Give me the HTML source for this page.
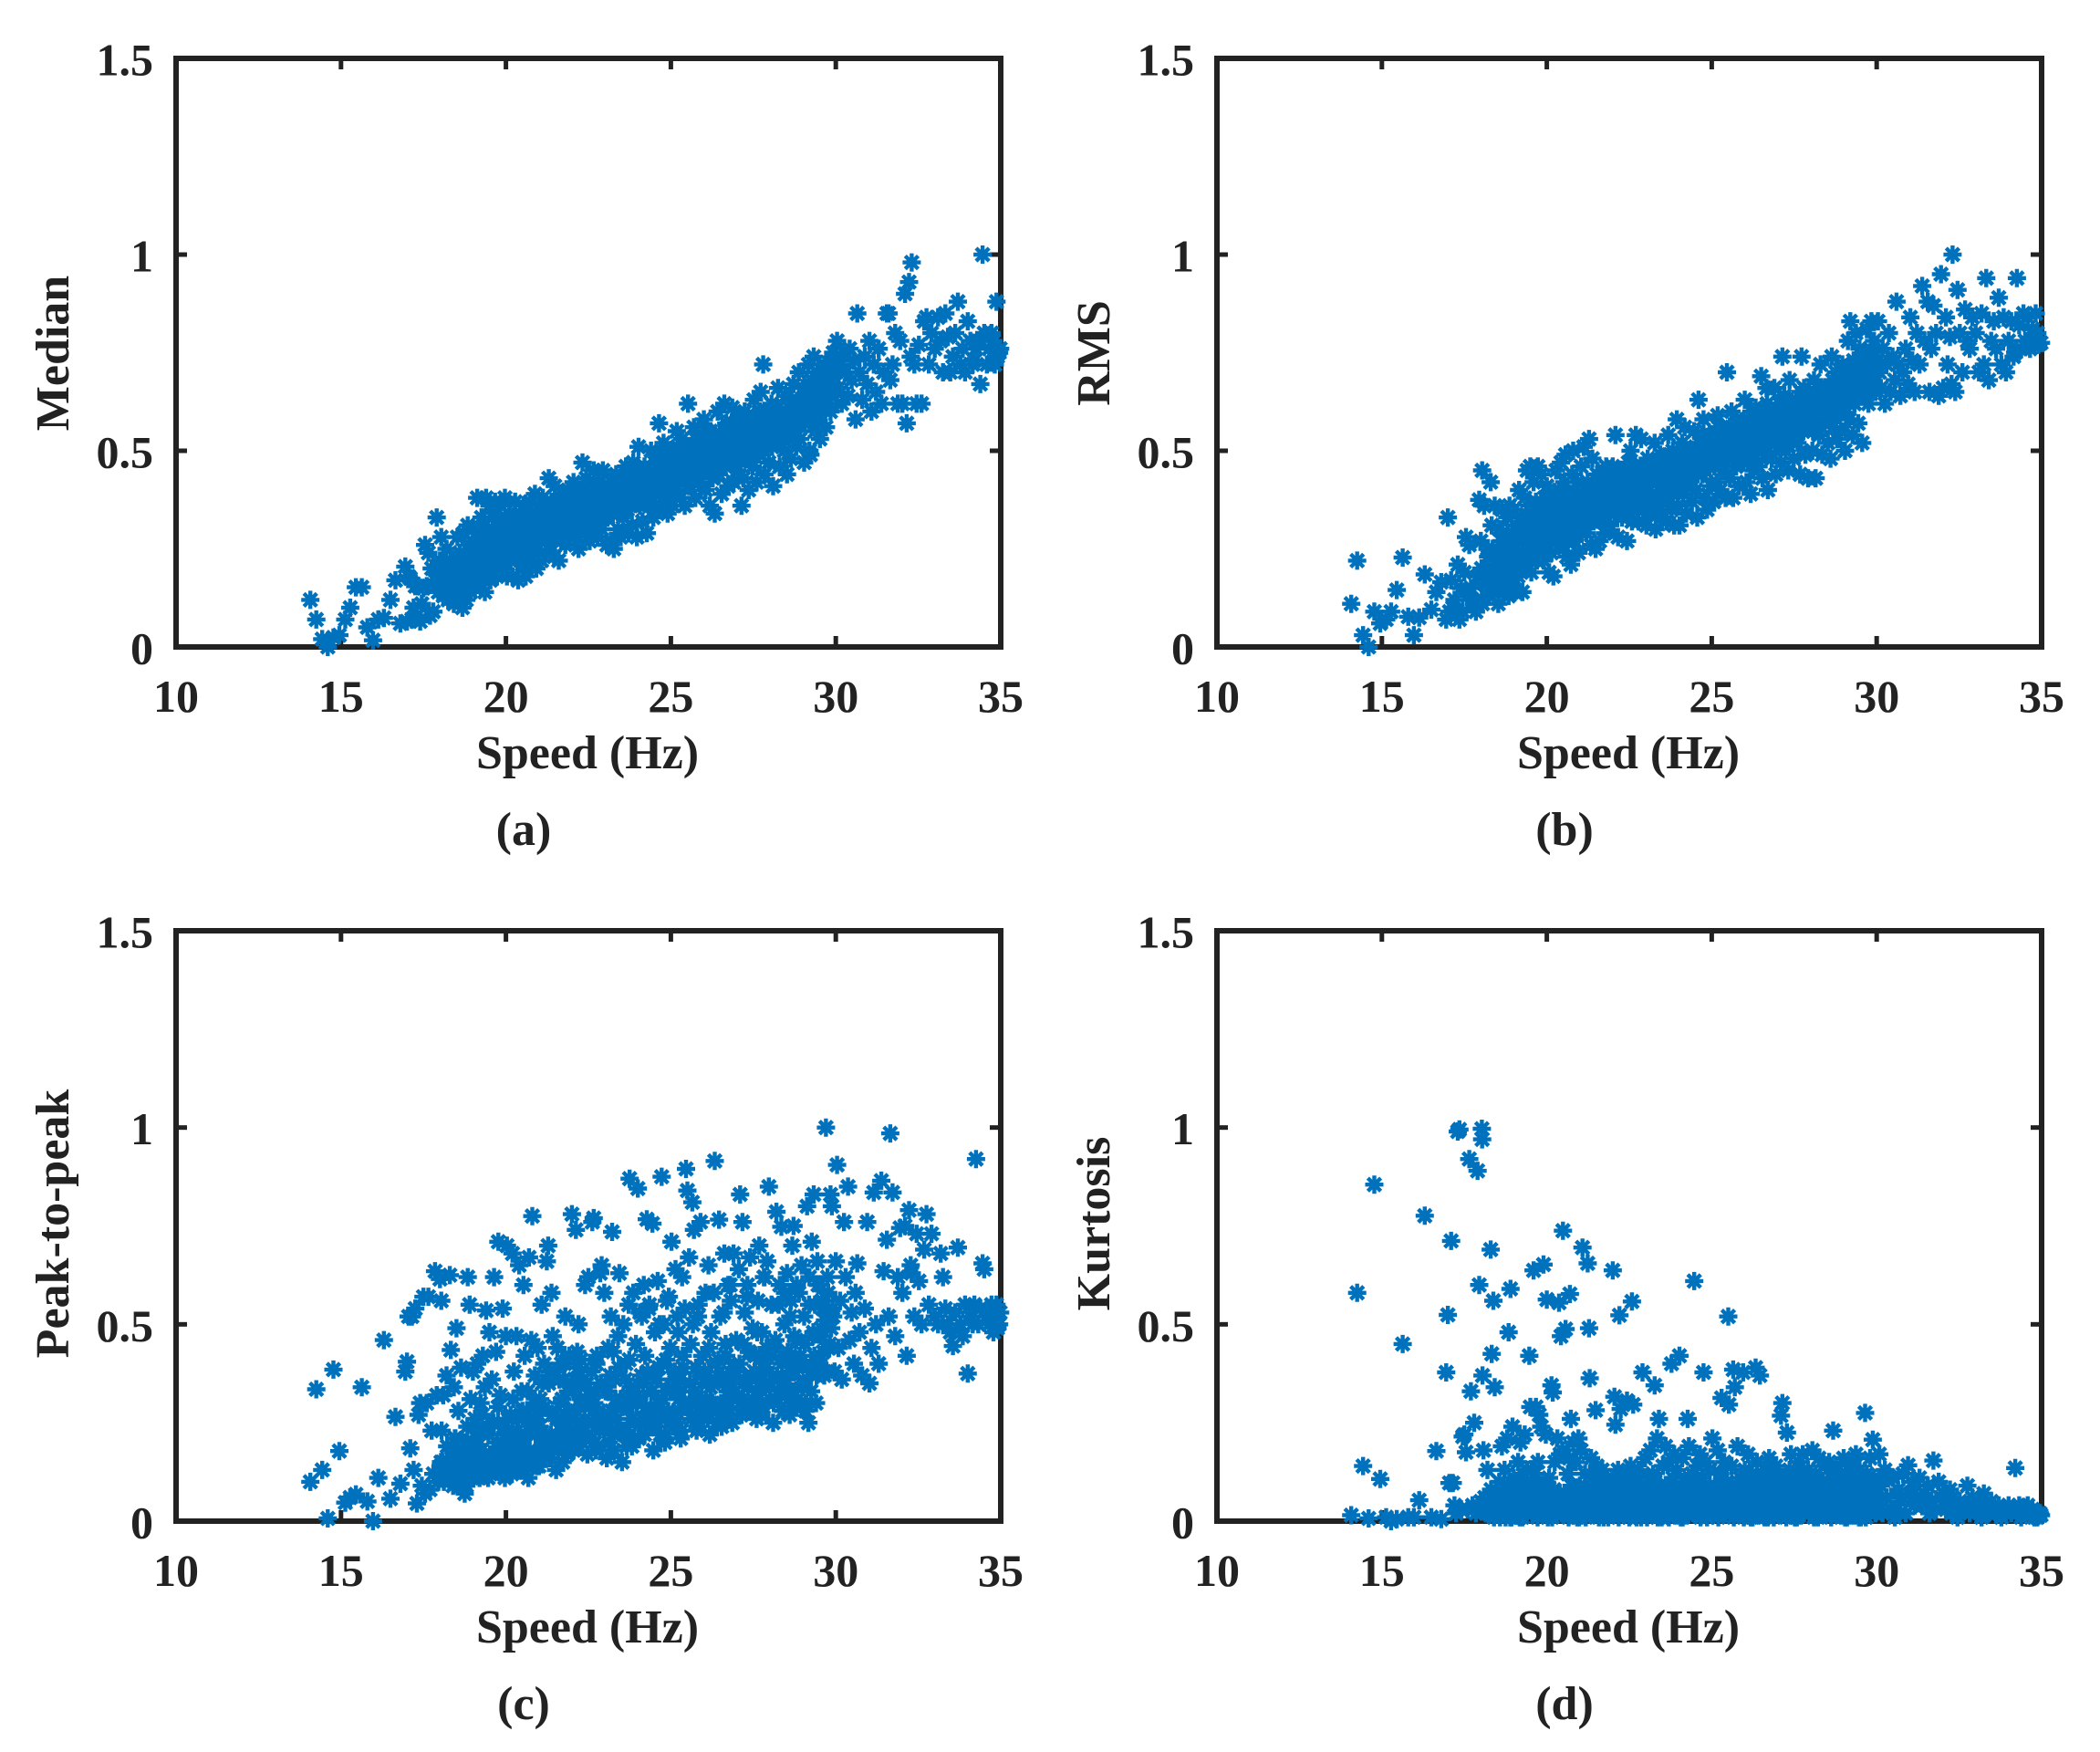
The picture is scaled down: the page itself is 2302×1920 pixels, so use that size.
<!DOCTYPE html>
<html lang="en">
<head>
<meta charset="utf-8">
<title>Speed scatter plots</title>
<style>
html,body{margin:0;padding:0;background:#fff;}
svg{display:block;}
text{font-family:"Liberation Serif",serif;font-weight:bold;fill:#222;}
.tick{font-size:50px;}
.title{font-size:52px;}
.cap{font-size:52px;}
.frame{fill:none;stroke:#222;stroke-width:6;}
</style>
</head>
<body>
<svg id="fig" width="2302" height="1920" viewBox="0 0 2302 1920" xmlns="http://www.w3.org/2000/svg">
<g id="panel-a">
<rect class="frame" x="193" y="64" width="904" height="645"/>
<text class="title" x="644" y="842" text-anchor="middle">Speed (Hz)</text>
<text class="title" transform="translate(75 387) rotate(-90)" text-anchor="middle">Median</text>
<text class="cap" x="574" y="926" text-anchor="middle">(a)</text>
</g>
<g id="panel-b">
<rect class="frame" x="1334" y="64" width="904" height="645"/>
<text class="title" x="1785" y="842" text-anchor="middle">Speed (Hz)</text>
<text class="title" transform="translate(1216 387) rotate(-90)" text-anchor="middle">RMS</text>
<text class="cap" x="1715" y="926" text-anchor="middle">(b)</text>
</g>
<g id="panel-c">
<rect class="frame" x="193" y="1020" width="904" height="647"/>
<text class="title" x="644" y="1800" text-anchor="middle">Speed (Hz)</text>
<text class="title" transform="translate(75 1341) rotate(-90)" text-anchor="middle">Peak-to-peak</text>
<text class="cap" x="574" y="1884" text-anchor="middle">(c)</text>
</g>
<g id="panel-d">
<rect class="frame" x="1334" y="1020" width="904" height="647"/>
<text class="title" x="1785" y="1800" text-anchor="middle">Speed (Hz)</text>
<text class="title" transform="translate(1216 1341) rotate(-90)" text-anchor="middle">Kurtosis</text>
<text class="cap" x="1715" y="1884" text-anchor="middle">(d)</text>
</g>
</svg>
<script>
const xTickLabels = [10, 15, 20, 25, 30, 35];
const yTickLabels = [0, 0.5, 1, 1.5];

const speed = [
14.07,14.25,14.43,14.6,14.77,14.95,15.13,15.28,15.45,15.63,
15.8,15.97,16.13,16.3,16.5,16.65,16.8,16.95,17.0,17.05,
17.1,17.15,17.2,17.25,17.3,17.35,17.4,17.45,17.5,17.55,
17.6,17.65,17.7,17.75,17.8,17.85,17.9,17.95,18.0,18.03,
18.04,18.05,18.08,18.1,18.15,18.2,18.25,18.3,18.33,18.38,
18.42,18.45,18.5,18.53,18.56,18.6,18.64,18.68,18.72,18.75,
18.78,18.8,18.84,18.87,18.9,18.93,18.96,19.0,19.03,19.06,
19.1,19.13,19.16,19.2,19.23,19.26,19.3,19.33,19.36,19.4,
19.44,19.47,19.5,19.53,19.57,19.6,19.64,19.67,19.7,19.73,
19.77,19.8,19.83,19.87,19.9,19.93,19.97,20.0,20.03,20.07,
20.1,20.14,20.18,20.2,20.24,20.28,20.32,20.37,20.4,20.43,
20.47,20.49,20.53,20.57,20.6,20.64,20.68,20.7,20.73,20.77,
20.8,20.84,20.88,20.92,20.96,21.0,21.04,21.08,21.12,21.16,
21.2,21.24,21.28,21.3,21.34,21.38,21.42,21.46,21.48,21.52,
21.56,21.6,21.64,21.68,21.72,21.76,21.8,21.84,21.88,21.92,
21.96,22.0,22.05,22.08,22.12,22.16,22.2,22.24,22.28,22.32,
22.36,22.4,22.43,22.47,22.5,22.54,22.58,22.62,22.66,22.7,
22.74,22.78,22.82,22.86,22.9,22.94,22.98,23.02,23.06,23.1,
23.14,23.18,23.22,23.27,23.3,23.34,23.4,23.44,23.48,23.52,
23.56,23.6,23.64,23.68,23.72,23.75,23.78,23.82,23.86,23.9,
23.94,23.97,24.0,24.02,24.06,24.1,24.14,24.18,24.22,24.27,
24.31,24.35,24.4,24.44,24.47,24.52,24.56,24.6,24.64,24.68,
24.72,24.75,24.78,24.82,24.86,24.9,24.94,24.98,25.02,25.06,
25.1,25.14,25.18,25.22,25.26,25.3,25.34,25.38,25.42,25.46,
25.5,25.52,25.55,25.6,25.65,25.7,25.74,25.78,25.82,25.86,
25.9,25.95,26.0,26.05,26.1,26.14,26.18,26.22,26.27,26.33,
26.37,26.42,26.46,26.5,26.54,26.58,26.62,26.66,26.7,26.74,
26.78,26.82,26.86,26.9,26.94,26.98,27.02,27.06,27.1,27.14,
27.17,27.2,27.24,27.28,27.32,27.36,27.4,27.44,27.48,27.52,
27.56,27.6,27.64,27.68,27.72,27.76,27.8,27.84,27.88,27.92,
27.97,28.0,28.05,28.1,28.15,28.2,28.25,28.3,28.35,28.4,
28.44,28.48,28.52,28.56,28.6,28.64,28.68,28.72,28.76,28.8,
28.84,28.88,28.92,28.96,29.0,29.04,29.08,29.13,29.17,29.2,
29.23,29.27,29.3,29.33,29.37,29.4,29.44,29.48,29.52,29.56,
29.6,29.65,29.7,29.75,29.8,29.84,29.88,29.92,29.96,30.0,
30.04,30.08,30.13,30.18,30.25,30.3,30.37,30.42,30.48,30.55,
30.6,30.65,30.72,30.8,30.88,30.95,31.02,31.08,31.15,31.22,
31.3,31.38,31.45,31.55,31.6,31.65,31.72,31.8,31.88,31.95,
32.02,32.1,32.15,32.22,32.27,32.3,32.38,32.45,32.52,32.6,
32.68,32.75,32.82,32.9,33.0,33.1,33.18,33.25,33.32,33.4,
33.47,33.55,33.62,33.7,33.78,33.85,33.92,34.0,34.08,34.15,
34.2,34.25,34.32,34.38,34.45,34.5,34.58,34.65,34.72,34.78,
34.82,34.87,34.9,34.95,34.98,
18.02,18.12,18.22,18.31,18.36,18.4,18.44,18.47,18.49,18.51,
18.55,18.58,18.62,18.66,18.7,18.74,18.77,18.83,18.89,18.95,
19.02,19.08,19.12,19.18,19.22,19.28,19.32,19.38,19.42,19.46,
19.52,19.56,19.62,19.66,19.72,19.76,19.82,19.86,19.92,19.96,
20.02,20.06,20.12,20.16,20.22,20.26,20.34,20.39,20.45,20.5,
20.55,20.62,20.66,20.72,20.75,20.82,20.86,20.9,20.94,20.98,
21.02,21.06,21.1,21.14,21.18,21.22,21.32,21.36,21.4,21.44,
21.54,21.58,21.62,21.66,21.7,21.74,21.78,21.82,21.86,21.9,
22.02,22.07,22.1,22.14,22.18,22.22,22.26,22.3,22.34,22.38,
22.52,22.56,22.6,22.64,22.68,22.72,22.76,22.8,22.84,22.88,
23.04,23.08,23.12,23.16,23.2,23.24,23.28,23.32,23.36,23.42,
23.54,23.58,23.62,23.66,23.7,23.74,23.8,23.84,23.88,23.92,
24.04,24.08,24.12,24.16,24.2,24.24,24.29,24.33,24.38,24.42,
24.54,24.58,24.62,24.66,24.7,24.74,24.8,24.84,24.88,24.92,
25.04,25.08,25.12,25.16,25.2,25.24,25.28,25.32,25.36,25.4,
25.58,25.62,25.67,25.72,25.76,25.8,25.84,25.88,25.92,25.97,
26.02,26.07,26.12,26.16,26.2,26.24,26.3,26.35,26.4,26.44,
26.52,26.56,26.6,26.64,26.68,26.72,26.76,26.8,26.84,26.88,
27.04,27.08,27.12,27.19,27.22,27.26,27.3,27.34,27.38,27.42,
27.54,27.58,27.62,27.66,27.7,27.74,27.78,27.82,27.86,27.9,
28.02,28.07,28.12,28.17,28.22,28.27,28.32,28.37,28.42,28.46,
28.5,28.54,28.58,28.62,28.66,28.7,28.74,28.78,28.82,28.86,
29.02,29.06,29.1,29.15,29.19,29.25,29.32,29.35,29.42,29.46,
29.5,29.54,29.58,29.62,29.67,29.72,29.77,29.82,29.86,29.9
];

const medianValues = [
.12,.07,.02,0,.024,.03,.07,.10,.152,.152,
.05,.017,.07,.074,.12,.17,.06,.205,.065,.18,
.175,.07,.10,.155,.08,.155,.065,.11,.15,.26,
.155,.24,.08,.20,.09,.17,.33,.14,.22,.16,
.28,.15,.21,.13,.18,.25,.12,.17,.22,.14,
.11,.20,.16,.28,.13,.24,.18,.10,.29,.15,
.21,.12,.31,.17,.26,.14,.19,.30,.23,.15,
.24,.38,.19,.27,.16,.33,.22,.31,.14,.38,
.20,.29,.36,.17,.26,.33,.21,.37,.24,.18,
.30,.23,.36,.27,.20,.32,.38,.25,.18,.29,
.34,.22,.28,.18,.31,.37,.25,.17,.29,.34,
.27,.21,.36,.30,.18,.33,.24,.28,.37,.22,
.32,.25,.39,.20,.29,.35,.27,.22,.38,.31,
.24,.34,.29,.43,.26,.37,.31,.23,.41,.28,
.33,.22,.36,.27,.30,.39,.26,.34,.40,.29,
.35,.31,.42,.28,.37,.33,.25,.39,.30,.47,
.36,.29,.43,.33,.38,.27,.41,.34,.45,.31,
.35,.28,.42,.37,.30,.45,.33,.39,.26,.36,
.41,.27,.34,.25,.38,.44,.30,.36,.28,.40,
.33,.39,.46,.35,.29,.42,.37,.31,.47,.38,
.43,.28,.40,.51,.36,.45,.32,.41,.38,.29,
.44,.36,.50,.40,.33,.47,.42,.35,.57,.39,
.45,.37,.52,.41,.48,.34,.43,.39,.50,.36,
.46,.40,.55,.43,.49,.38,.53,.45,.36,.51,
.47,.62,.41,.50,.44,.56,.38,.48,.53,.42,
.51,.45,.58,.40,.55,.48,.36,.52,.43,.34,
.49,.60,.44,.54,.39,.50,.62,.46,.56,.41,
.53,.47,.61,.42,.57,.51,.45,.59,.55,.36,
.52,.43,.60,.48,.55,.40,.58,.50,.46,.63,
.54,.42,.59,.49,.65,.56,.72,.44,.51,.60,
.47,.55,.62,.41,.58,.52,.66,.46,.60,.53,
.50,.64,.44,.57,.61,.48,.55,.67,.59,.51,
.62,.70,.53,.58,.66,.47,.63,.60,.72,.50,
.49,.68,.60,.74,.55,.64,.70,.59,.53,.67,
.62,.72,.56,.69,.65,.60,.73,.75,.66,.70,
.78,.66,.72,.62,.75,.70,.64,.76,.68,.73,
.58,.85,.70,.63,.74,.67,.78,.60,.72,.65,
.76,.62,.70,.85,.85,.68,.72,.80,.62,.78,
.62,.90,.57,.93,.74,.98,.72,.62,.77,.62,
.83,.84,.72,.80,.76,.84,.78,.70,.85,.79,
.70,.74,.80,.88,.72,.76,.70,.83,.78,.72,
.73,.76,.78,.67,1.0,.80,.72,.76,.80,.78,
.72,.88,.74,.75,.76,
.17,.14,.19,.16,.21,.15,.18,.20,.13,.17,
.20,.17,.22,.15,.19,.23,.16,.21,.18,.24,
.22,.26,.19,.24,.28,.21,.25,.18,.27,.23,
.25,.29,.22,.27,.31,.24,.28,.21,.30,.26,
.27,.31,.24,.29,.33,.26,.30,.23,.28,.32,
.29,.26,.32,.28,.34,.25,.30,.27,.33,.29,
.31,.27,.34,.29,.36,.32,.28,.35,.30,.33,
.34,.30,.37,.32,.39,.35,.31,.36,.33,.38,
.35,.32,.38,.34,.40,.36,.31,.37,.33,.39,
.37,.33,.39,.35,.41,.36,.32,.38,.34,.40,
.36,.33,.40,.37,.42,.34,.39,.35,.41,.38,
.39,.35,.42,.37,.44,.40,.36,.43,.38,.41,
.41,.37,.44,.39,.46,.42,.38,.45,.40,.43,
.44,.40,.47,.42,.49,.45,.41,.48,.43,.46,
.46,.42,.49,.44,.51,.47,.43,.50,.45,.48,
.48,.44,.51,.46,.53,.49,.45,.52,.47,.50,
.49,.46,.53,.48,.55,.50,.45,.54,.47,.52,
.51,.47,.54,.49,.57,.52,.48,.55,.50,.53,
.52,.48,.56,.50,.58,.54,.49,.57,.51,.55,
.54,.50,.57,.52,.60,.55,.51,.58,.53,.56,
.55,.51,.58,.53,.61,.56,.52,.59,.54,.57,
.58,.54,.61,.56,.63,.59,.55,.62,.57,.60,
.61,.57,.64,.59,.66,.62,.58,.65,.60,.63,
.65,.61,.68,.63,.70,.66,.62,.69,.64,.67
];

const rmsValues = [
.11,.22,.03,0,.09,.06,.07,.09,.145,.228,
.077,.03,.075,.185,.095,.14,.165,.07,.33,.09,
.17,.10,.12,.08,.21,.07,.15,.09,.19,.28,
.13,.26,.15,.12,.11,.09,.18,.375,.27,.12,
.45,.11,.19,.36,.16,.25,.13,.42,.31,.20,
.36,.15,.24,.11,.30,.19,.35,.14,.27,.17,
.20,.33,.13,.36,.25,.16,.29,.35,.14,.22,
.28,.18,.40,.23,.33,.14,.30,.38,.21,.45,
.25,.36,.46,.19,.31,.42,.28,.37,.22,.46,
.33,.26,.44,.30,.22,.38,.28,.41,.34,.19,
.30,.24,.38,.18,.35,.45,.27,.40,.31,.47,
.36,.26,.42,.49,.23,.33,.39,.29,.21,.44,
.50,.27,.35,.42,.24,.38,.46,.30,.51,.34,
.29,.42,.53,.36,.26,.48,.32,.39,.25,.44,
.37,.27,.43,.32,.38,.29,.46,.35,.41,.31,
.38,.46,.34,.54,.41,.28,.37,.44,.33,.39,
.42,.35,.27,.47,.38,.50,.32,.43,.36,.54,
.44,.32,.38,.53,.46,.35,.41,.31,.48,.37,
.34,.45,.38,.52,.30,.42,.36,.49,.33,.43,
.40,.46,.32,.54,.38,.44,.35,.50,.31,.42,
.58,.36,.47,.31,.43,.52,.39,.56,.34,.48,
.42,.50,.37,.46,.55,.40,.33,.63,.47,.52,
.44,.58,.38,.50,.35,.46,.54,.41,.49,.37,
.53,.42,.59,.47,.40,.56,.45,.51,.38,.70,
.48,.55,.43,.60,.38,.52,.46,.57,.41,.50,
.54,.47,.63,.42,.58,.50,.39,.55,.45,.61,
.52,.46,.60,.69,.43,.55,.49,.66,.40,.57,
.61,.48,.54,.66,.44,.58,.51,.62,.47,.74,
.55,.64,.50,.59,.45,.68,.53,.61,.48,.57,
.63,.52,.58,.44,.74,.55,.66,.49,.61,.43,
.57,.64,.50,.68,.43,.60,.54,.72,.49,.62,
.58,.66,.52,.62,.48,.74,.56,.64,.70,.53,
.60,.67,.55,.72,.63,.50,.69,.78,.58,.83,
.66,.54,.73,.62,.80,.69,.57,.76,.64,.52,
.72,.67,.81,.62,.75,.83,.69,.78,.65,.73,
.83,.70,.66,.76,.62,.72,.80,.65,.74,.68,
.88,.72,.64,.70,.76,.67,.84,.73,.65,.80,
.72,.92,.78,.88,.65,.76,.87,.80,.64,.95,
.66,.84,.72,.79,.67,1.0,.65,.91,.80,.70,
.86,.78,.76,.84,.80,.70,.85,.72,.94,.68,
.78,.83,.76,.89,.72,.84,.70,.78,.83,.74,
.75,.94,.82,.76,.85,.78,.84,.76,.81,.77,
.85,.80,.77,.775,.775,
.20,.16,.23,.18,.25,.14,.21,.24,.17,.19,
.24,.19,.27,.16,.22,.28,.18,.25,.21,.29,
.26,.31,.22,.28,.33,.24,.30,.21,.32,.27,
.30,.34,.25,.31,.36,.28,.33,.24,.35,.29,
.32,.36,.27,.34,.38,.30,.35,.26,.33,.37,
.34,.29,.37,.32,.39,.28,.35,.31,.38,.33,
.36,.31,.39,.33,.41,.37,.32,.40,.35,.38,
.38,.34,.42,.36,.44,.39,.35,.41,.37,.43,
.39,.35,.43,.37,.45,.40,.34,.42,.36,.44,
.41,.36,.44,.38,.46,.40,.35,.43,.37,.45,
.41,.37,.45,.42,.47,.38,.44,.39,.46,.43,
.44,.39,.47,.41,.49,.45,.40,.48,.42,.46,
.46,.41,.49,.43,.51,.47,.42,.50,.44,.48,
.49,.44,.52,.46,.54,.50,.45,.53,.47,.51,
.51,.46,.54,.48,.56,.52,.47,.55,.49,.53,
.53,.48,.56,.50,.58,.54,.49,.57,.51,.55,
.54,.50,.58,.52,.60,.55,.49,.59,.51,.57,
.56,.51,.59,.53,.62,.57,.52,.60,.54,.58,
.57,.52,.61,.54,.63,.59,.53,.62,.55,.60,
.59,.54,.62,.56,.65,.60,.55,.63,.57,.61,
.60,.55,.63,.57,.66,.61,.56,.64,.58,.62,
.63,.58,.66,.60,.68,.64,.59,.67,.61,.65,
.66,.61,.69,.63,.71,.67,.62,.70,.64,.68,
.70,.65,.73,.67,.75,.71,.66,.74,.68,.72
];

const peakToPeakValues = [
.10,.335,.13,.007,.385,.178,.047,.06,.068,.34,
.05,0,.11,.46,.057,.265,.095,.38,.405,.52,
.185,.52,.13,.54,.045,.27,.30,.09,.57,.07,
.30,.57,.08,.23,.12,.635,.32,.10,.615,.15,
.56,.23,.15,.32,.11,.37,.13,.625,.435,.18,
.34,.21,.49,.10,.28,.15,.39,.12,.18,.07,
.20,.09,.62,.14,.55,.31,.11,.38,.17,.26,
.14,.40,.23,.11,.30,.18,.42,.13,.34,.535,
.16,.22,.48,.12,.36,.25,.62,.15,.43,.20,
.71,.18,.32,.13,.54,.24,.11,.47,.70,.16,
.22,.27,.12,.68,.38,.15,.47,.26,.65,.20,
.33,.13,.60,.42,.17,.28,.11,.67,.23,.46,
.775,.15,.37,.24,.44,.14,.31,.55,.19,.40,
.22,.66,.70,.35,.16,.58,.47,.27,.38,.13,
.44,.20,.30,.40,.15,.36,.52,.24,.33,.42,
.27,.78,.18,.36,.74,.43,.50,.22,.41,.30,
.24,.60,.35,.17,.62,.29,.21,.76,.77,.33,
.40,.19,.28,.63,.65,.24,.58,.33,.16,.44,
.27,.52,.735,.18,.36,.23,.47,.63,.31,.15,
.50,.22,.40,.29,.55,.87,.34,.19,.58,.25,
.45,.30,.845,.21,.53,.37,.26,.60,.42,.767,
.24,.55,.33,.756,.18,.48,.28,.61,.39,.22,
.875,.31,.50,.20,.41,.27,.57,.44,.71,.24,
.36,.64,.25,.48,.33,.21,.62,.39,.54,.895,
.84,.29,.67,.45,.81,.74,.31,.23,.52,.38,
.76,.42,.27,.58,.35,.65,.22,.48,.30,.915,
.40,.28,.766,.52,.24,.35,.68,.45,.29,.60,
.33,.56,.25,.68,.38,.46,.31,.64,.83,.27,
.76,.35,.53,.28,.60,.43,.67,.37,.49,.30,
.42,.26,.56,.70,.34,.48,.29,.62,.39,.66,
.85,.31,.55,.25,.44,.786,.36,.60,.748,.28,
.50,.33,.63,.41,.27,.56,.70,.75,.38,.46,
.31,.58,.42,.65,.34,.52,.28,.80,.25,.62,
.38,.71,.47,.83,.55,.30,.66,.41,.60,.49,
.54,.37,1.0,.62,.44,.83,.80,.52,.38,.66,
.905,.44,.56,.36,.76,.62,.85,.46,.53,.40,
.58,.655,.48,.37,.54,.76,.35,.44,.835,.50,
.40,.865,.635,.715,.52,.985,.835,.47,.62,.745,
.58,.75,.42,.79,.65,.63,.52,.73,.61,.50,
.69,.78,.55,.73,.52,.50,.68,.62,.54,.50,
.48,.445,.53,.695,.50,.47,.55,.375,.52,.50,
.55,.92,.50,.54,.655,.64,.52,.50,.55,.48,
.52,.55,.49,.50,.53,
.14,.10,.19,.12,.16,.09,.13,.21,.11,.15,
.12,.17,.09,.14,.20,.11,.16,.24,.13,.18,
.15,.12,.21,.14,.18,.27,.13,.16,.23,.11,
.17,.13,.25,.15,.20,.29,.14,.18,.12,.22,
.16,.26,.14,.20,.31,.17,.23,.13,.19,.28,
.21,.15,.33,.18,.25,.16,.30,.22,.14,.27,
.24,.17,.35,.20,.29,.16,.38,.22,.27,.19,
.26,.18,.36,.23,.31,.20,.40,.25,.17,.28,
.22,.34,.19,.28,.39,.24,.31,.20,.36,.26,
.32,.21,.38,.25,.30,.18,.42,.27,.23,.35,
.24,.33,.20,.37,.28,.43,.22,.31,.26,.39,
.29,.23,.36,.19,.32,.41,.26,.30,.21,.34,
.31,.25,.52,.35,.22,.29,.38,.54,.27,.33,
.24,.36,.30,.50,.26,.40,.21,.33,.56,.28,
.34,.27,.38,.25,.52,.31,.36,.23,.42,.29,
.35,.26,.50,.33,.39,.24,.55,.30,.37,.28,
.38,.31,.26,.44,.34,.29,.58,.36,.25,.41,
.30,.37,.53,.28,.42,.33,.26,.60,.35,.39,
.32,.40,.27,.45,.36,.30,.57,.34,.43,.29,
.38,.33,.48,.31,.41,.27,.36,.62,.35,.44,
.34,.42,.30,.46,.37,.55,.32,.40,.28,.58,
.36,.43,.31,.52,.38,.33,.47,.29,.60,.41,
.35,.45,.30,.39,.55,.33,.48,.42,.37,.60,
.40,.47,.56,.43,.51,.38,.58,.45,.49,.54
];

const kurtosisValues = [
.015,.58,.14,.007,.855,.107,.01,0,.005,.45,
.01,.01,.053,.776,.01,.178,.005,.378,.524,.097,
.712,.097,.04,.02,.99,.995,.03,.215,.22,.175,
.03,.92,.33,.04,.25,.02,.89,.60,.05,.997,
.97,.37,.18,.04,.02,.13,.06,.69,.425,.56,
.34,.02,.05,.07,.10,.03,.19,.04,.13,.01,
.03,.21,.48,.06,.59,.01,.24,.11,.02,.08,
.05,.15,.02,.20,.09,.01,.12,.22,.04,.13,
.03,.42,.29,.10,.02,.637,.12,.29,.06,.15,
.27,.03,.24,.09,.652,.05,.22,.563,.01,.11,
.07,.345,.327,.02,.15,.04,.21,.555,.17,.47,
.18,.738,.05,.488,.03,.12,.16,.577,.26,.02,
.20,.06,.15,.01,.21,.09,.18,.695,.04,.12,
.05,.655,.49,.363,.16,.02,.11,.07,.282,.14,
.03,.09,.06,.13,.01,.08,.04,.11,.02,.07,
.10,.637,.316,.245,.05,.13,.523,.285,.02,.09,
.12,.04,.306,.08,.01,.14,.558,.296,.06,.10,
.03,.13,.07,.01,.378,.05,.16,.09,.02,.11,
.18,.04,.12,.345,.08,.21,.26,.06,.01,.14,
.03,.19,.09,.15,.05,.02,.40,.11,.17,.07,
.13,.04,.08,.42,.01,.16,.06,.10,.03,.26,
.19,.05,.12,.02,.61,.09,.14,.03,.17,.07,
.11,.378,.04,.15,.01,.08,.13,.06,.21,.02,
.09,.05,.18,.03,.12,.313,.07,.15,.02,.10,
.52,.296,.04,.14,.385,.34,.08,.19,.02,.11,
.06,.378,.13,.03,.17,.09,.01,.12,.05,.39,
.15,.07,.37,.02,.10,.04,.13,.08,.01,.16,
.05,.12,.02,.09,.14,.06,.11,.03,.268,.30,
.04,.10,.07,.225,.02,.13,.17,.05,.09,.01,
.12,.06,.15,.03,.08,.17,.02,.11,.05,.13,
.04,.09,.18,.01,.12,.07,.16,.03,.10,.06,
.14,.02,.08,.15,.05,.11,.23,.04,.13,.07,
.09,.02,.12,.05,.16,.01,.07,.11,.03,.13,
.06,.14,.02,.09,.17,.04,.10,.13,.01,.08,
.05,.275,.12,.03,.16,.08,.207,.11,.02,.06,
.04,.17,.09,.02,.13,.06,.114,.03,.11,.01,
.03,.08,.05,.12,.02,.142,.07,.10,.04,.06,
.11,.04,.07,.09,.02,.05,.154,.03,.10,.06,
.07,.03,.05,.08,.02,.06,.04,.01,.05,.03,
.04,.09,.02,.06,.03,.05,.01,.07,.04,.02,
.05,.03,.02,.04,.01,.03,.02,.04,.02,.03,
.135,.02,.04,.01,.03,.02,.04,.015,.03,.01,
.02,.01,.015,.02,.015,
.03,.06,.02,.08,.04,.01,.05,.03,.07,.02,
.05,.01,.04,.07,.02,.06,.03,.09,.01,.04,
.02,.07,.04,.01,.06,.03,.08,.02,.05,.03,
.06,.02,.09,.04,.01,.07,.03,.05,.02,.08,
.04,.02,.06,.01,.08,.03,.05,.07,.02,.04,
.07,.03,.01,.05,.09,.02,.06,.04,.08,.01,
.02,.06,.04,.08,.01,.05,.03,.07,.02,.10,
.05,.01,.07,.03,.06,.02,.09,.04,.01,.05,
.03,.08,.02,.05,.01,.07,.04,.06,.02,.09,
.06,.02,.04,.09,.03,.01,.07,.05,.08,.02,
.01,.05,.08,.03,.06,.02,.10,.04,.01,.07,
.04,.07,.02,.06,.01,.09,.03,.05,.08,.02,
.06,.03,.01,.08,.04,.07,.02,.05,.10,.03,
.02,.05,.09,.01,.06,.03,.08,.04,.02,.07,
.08,.02,.04,.07,.01,.05,.10,.03,.06,.02,
.03,.08,.01,.05,.09,.02,.06,.04,.07,.01,
.05,.02,.10,.03,.07,.01,.06,.09,.04,.02,
.07,.04,.01,.08,.02,.06,.03,.11,.05,.01,
.02,.09,.05,.03,.07,.01,.10,.04,.02,.06,
.06,.01,.08,.03,.05,.11,.02,.07,.04,.09,
.03,.07,.02,.10,.01,.05,.08,.03,.06,.02,
.08,.02,.05,.01,.09,.04,.07,.02,.10,.03,
.04,.09,.01,.06,.03,.08,.02,.05,.11,.01,
.07,.02,.05,.09,.01,.06,.03,.10,.04,.08
];

const SVG_NS = 'http://www.w3.org/2000/svg';
const MARKER_PATH = 'M0 -10V10M-10 0H10M-7.1 -7.1L7.1 7.1M-7.1 7.1L7.1 -7.1';

function make(tag, parent) {
  const el = document.createElementNS(SVG_NS, tag);
  parent.appendChild(el);
  return el;
}

function drawPanel(id, values, left, right, top, bottom) {
  const panel = document.getElementById(id);
  const xScale = v => left + (v - 10) / 25 * (right - left);
  const yScale = v => bottom - v / 1.5 * (bottom - top);

  xTickLabels.forEach(t => {
    const x = xScale(t);
    const bottomTick = make('line', panel);
    
    
    bottomTick.setAttribute('x1', x); bottomTick.setAttribute('x2', x);
    bottomTick.setAttribute('y1', bottom); bottomTick.setAttribute('y2', bottom - 12);
    bottomTick.setAttribute('stroke', '#222'); bottomTick.setAttribute('stroke-width', '5');
    const topTick = make('line', panel);
    
    
    topTick.setAttribute('x1', x); topTick.setAttribute('x2', x);
    topTick.setAttribute('y1', top); topTick.setAttribute('y2', top + 12);
    topTick.setAttribute('stroke', '#222'); topTick.setAttribute('stroke-width', '5');
    const label = make('text', panel);
    
    
    label.setAttribute('class', 'tick');
    label.setAttribute('x', x);
    label.setAttribute('y', bottom + 71);
    label.setAttribute('text-anchor', 'middle');
    label.textContent = String(t);
  });

  yTickLabels.forEach(t => {
    const y = yScale(t);
    const leftTick = make('line', panel);
    
    
    leftTick.setAttribute('x1', left); leftTick.setAttribute('x2', left + 12);
    leftTick.setAttribute('y1', y); leftTick.setAttribute('y2', y);
    leftTick.setAttribute('stroke', '#222'); leftTick.setAttribute('stroke-width', '5');
    const rightTick = make('line', panel);
    
    
    rightTick.setAttribute('x1', right); rightTick.setAttribute('x2', right - 12);
    rightTick.setAttribute('y1', y); rightTick.setAttribute('y2', y);
    rightTick.setAttribute('stroke', '#222'); rightTick.setAttribute('stroke-width', '5');
    const label = make('text', panel);
    
    
    label.setAttribute('class', 'tick');
    label.setAttribute('x', left - 25);
    label.setAttribute('y', y + 18.5);
    label.setAttribute('text-anchor', 'end');
    label.textContent = String(t);
  });

  const n = Math.min(speed.length, values.length);
  for (let i = 0; i < n; i++) {
    const mark = make('path', panel);
    
    
    mark.setAttribute('d', MARKER_PATH);
    mark.setAttribute('transform', 'translate(' + xScale(speed[i]).toFixed(1) + ' ' + yScale(values[i]).toFixed(1) + ')');
    mark.setAttribute('fill', 'none');
    mark.setAttribute('stroke', '#0072bd');
    mark.setAttribute('stroke-width', '4.4');
  }
}

drawPanel('panel-a', medianValues, 193, 1097, 64, 709);
drawPanel('panel-b', rmsValues, 1334, 2238, 64, 709);
drawPanel('panel-c', peakToPeakValues, 193, 1097, 1020, 1667);
drawPanel('panel-d', kurtosisValues, 1334, 2238, 1020, 1667);
</script>
</body>
</html>
